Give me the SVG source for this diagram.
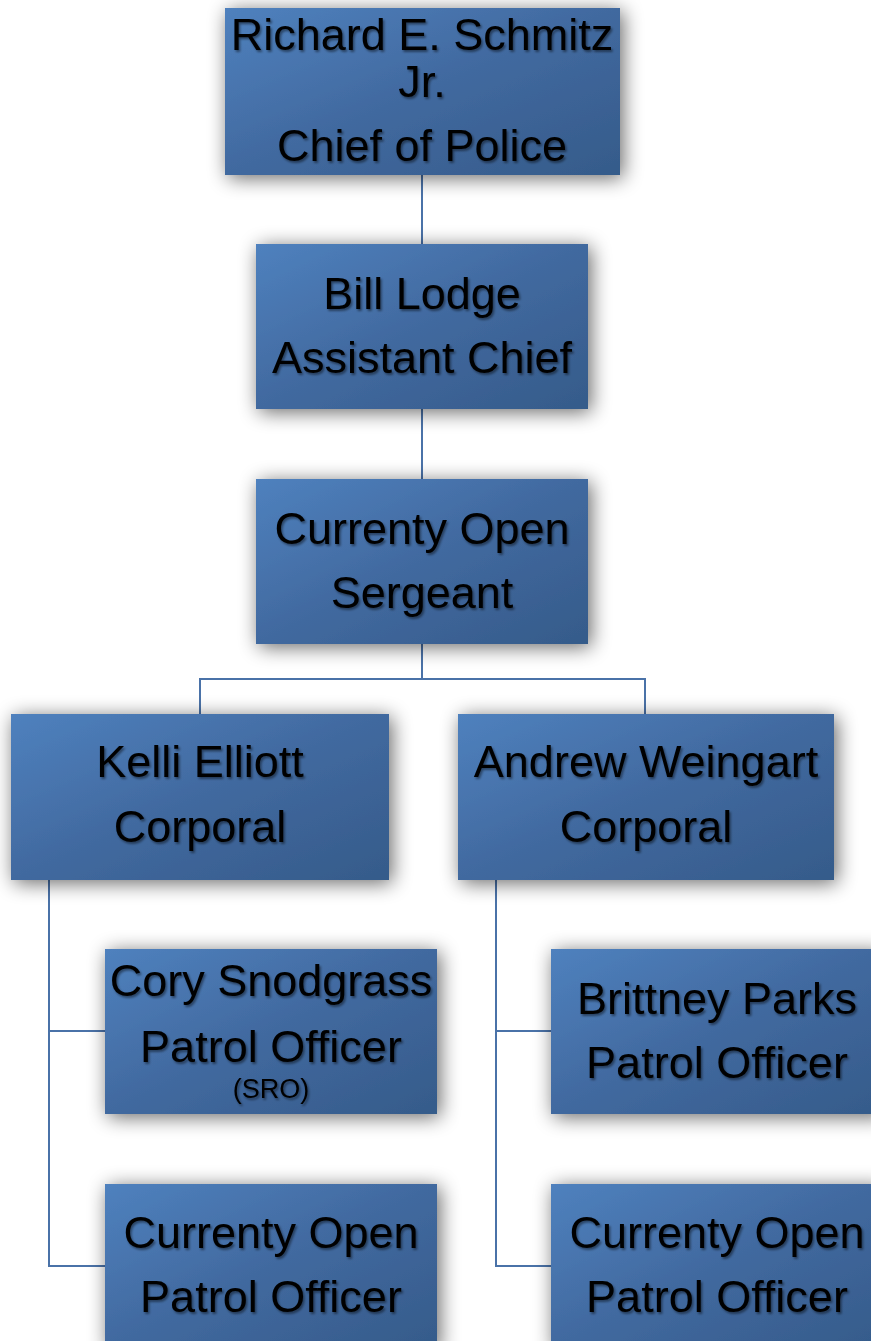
<svg xmlns="http://www.w3.org/2000/svg" width="871" height="1341" viewBox="0 0 871 1341">
<defs>
<linearGradient id="g" x1="0" y1="0" x2="1" y2="1">
<stop offset="0" stop-color="#4f81be"/>
<stop offset="0.5" stop-color="#41699f"/>
<stop offset="1" stop-color="#355b8a"/>
</linearGradient>
<filter id="sh" x="-20%" y="-30%" width="140%" height="160%">
<feGaussianBlur in="SourceAlpha" stdDeviation="10"/>
<feOffset dx="3" dy="3" result="b"/>
<feComponentTransfer><feFuncA type="linear" slope="0.6"/></feComponentTransfer>
<feMerge><feMergeNode/><feMergeNode in="SourceGraphic"/></feMerge>
</filter>
<filter id="ts" x="-10%" y="-20%" width="120%" height="140%">
<feDropShadow dx="1.5" dy="2" stdDeviation="1" flood-color="#000" flood-opacity="0.45"/>
</filter>
</defs>
<style>
.box{fill:url(#g);filter:url(#sh)}
.t{font-family:"Liberation Sans",Arial,sans-serif;font-size:45px;fill:#000;text-anchor:middle;filter:url(#ts)}
.s{font-size:27px}
.c{fill:none;stroke:#4a72a8;stroke-width:2}
</style>
<rect width="871" height="1341" fill="#fff"/>
<g id="connectors">
<path class="c" d="M422 175V244M422 409V479M422 644V679M200 714V679H645V714"/>
<path class="c" d="M49 880V1266H105M49 1031H105"/>
<path class="c" d="M496 880V1266H551M496 1031H551"/>
</g>
<g id="chief">
<rect class="box" x="225" y="8" width="395" height="167"/>
<text class="t" x="422" y="50">Richard E. Schmitz</text>
<text class="t" x="422" y="97">Jr.</text>
<text class="t" x="422" y="161">Chief of Police</text>
</g>
<g id="assistant">
<rect class="box" x="256" y="244" width="332" height="165"/>
<text class="t" x="422" y="309">Bill Lodge</text>
<text class="t" x="422" y="373">Assistant Chief</text>
</g>
<g id="sergeant">
<rect class="box" x="256" y="479" width="332" height="165"/>
<text class="t" x="422" y="544">Currenty Open</text>
<text class="t" x="422" y="608">Sergeant</text>
</g>
<g id="kelli">
<rect class="box" x="11" y="714" width="378" height="166"/>
<text class="t" x="200" y="777">Kelli Elliott</text>
<text class="t" x="200" y="842">Corporal</text>
</g>
<g id="andrew">
<rect class="box" x="458" y="714" width="376" height="166"/>
<text class="t" x="646" y="777">Andrew Weingart</text>
<text class="t" x="646" y="842">Corporal</text>
</g>
<g id="cory">
<rect class="box" x="105" y="949" width="332" height="165"/>
<text class="t" x="271" y="996">Cory Snodgrass</text>
<text class="t" x="271" y="1062">Patrol Officer</text>
<text class="t s" x="271" y="1098">(SRO)</text>
</g>
<g id="brittney">
<rect class="box" x="551" y="949" width="332" height="165"/>
<text class="t" x="717" y="1014">Brittney Parks</text>
<text class="t" x="717" y="1078">Patrol Officer</text>
</g>
<g id="open-left">
<rect class="box" x="105" y="1184" width="332" height="165"/>
<text class="t" x="271" y="1248">Currenty Open</text>
<text class="t" x="271" y="1312">Patrol Officer</text>
</g>
<g id="open-right">
<rect class="box" x="551" y="1184" width="332" height="165"/>
<text class="t" x="717" y="1248">Currenty Open</text>
<text class="t" x="717" y="1312">Patrol Officer</text>
</g>
</svg>
